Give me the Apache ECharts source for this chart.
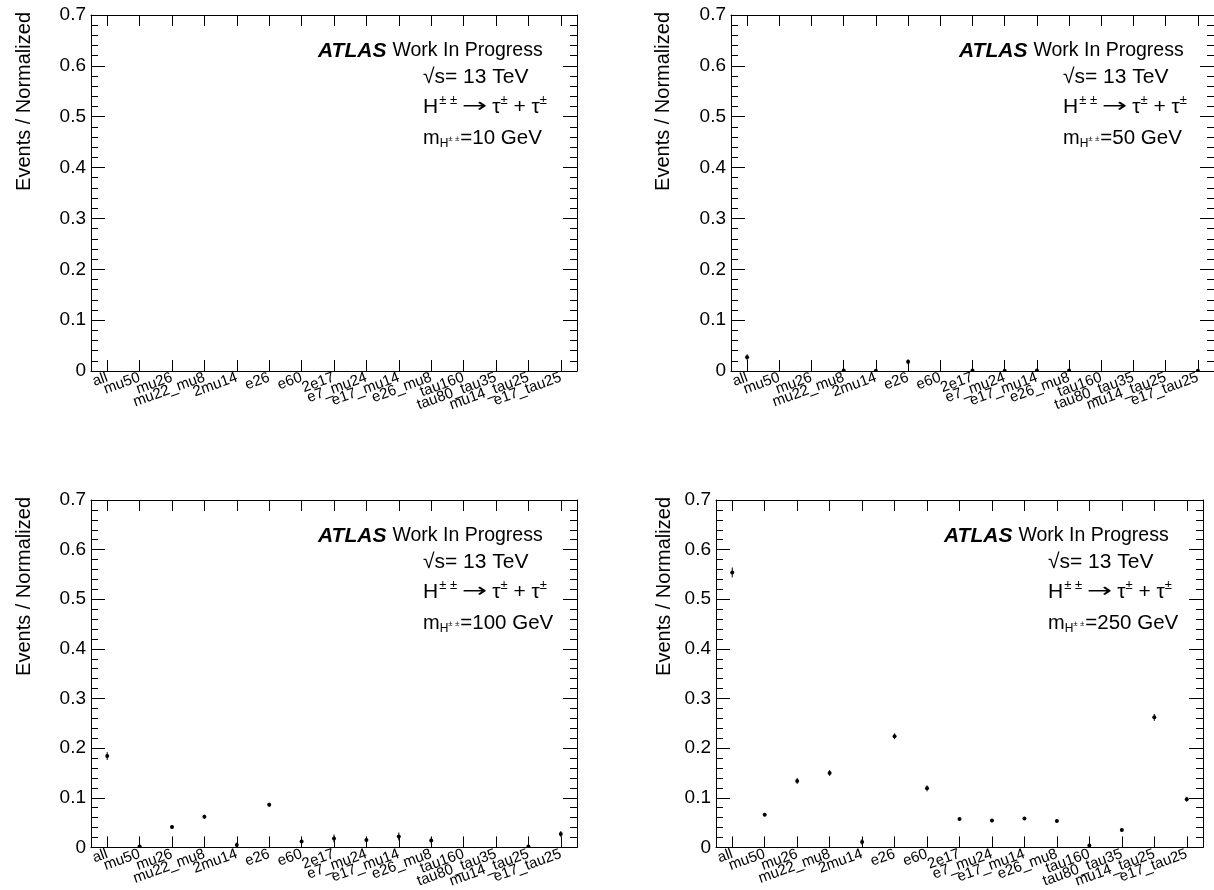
<!DOCTYPE html>
<html>
<head>
<meta charset="utf-8">
<script src="https://cdn.jsdelivr.net/npm/echarts@6/dist/echarts.min.js"></script>
<style>
html,body{margin:0;padding:0;background:#fff;}
#chart{width:1214px;height:890px;}
</style>
</head>
<body>
<div id="chart"></div>
<script>
// ---------- data ----------
const categories = ['all','mu50','mu26','mu22_mu8','2mu14','e26','e60','2e17','e7_mu24','e17_mu14','e26_mu8','tau160','tau80_tau35','mu14_tau25','e17_tau25'];
const yTicks = [0, 0.1, 0.2, 0.3, 0.4, 0.5, 0.6, 0.7];
const masses = ['10', '50', '100', '250'];

const frac10  = [null, null, null, null, null, null, null, null, null, null, null, null, null, null, null];
const err10   = [0, 0, 0, 0, 0, 0, 0, 0, 0, 0, 0, 0, 0, 0, 0];

const frac50  = [0.027, null, null, 0.001, 0.0005, 0.018, null, 0.001, 0.0005, 0.001, 0.001, null, null, null, 0.0005];
const err50   = [0.006, 0, 0, 0.001, 0.001, 0.005, 0, 0.001, 0.001, 0.001, 0.001, 0, 0, 0, 0.001];

const frac100 = [0.184, 0.002, 0.041, 0.062, 0.005, 0.086, 0.012, 0.018, 0.015, 0.022, 0.014, null, null, 0.002, 0.027];
const err100  = [0.008, 0.002, 0.004, 0.004, 0.005, 0.004, 0.006, 0.008, 0.006, 0.008, 0.006, 0, 0, 0.002, 0.006];

const frac250 = [0.554, 0.066, 0.134, 0.150, 0.011, 0.224, 0.119, 0.057, 0.054, 0.058, 0.053, 0.004, 0.035, 0.262, 0.097];
const err250  = [0.010, 0.003, 0.006, 0.006, 0.006, 0.006, 0.006, 0.003, 0.003, 0.003, 0.003, 0.003, 0.003, 0.007, 0.005];

// ---------- layout ----------
const FONT = '"Liberation Sans", Arial, Helvetica, sans-serif';
const SYMFONT = '"DejaVu Sans", "Liberation Sans", sans-serif';
const panels = [
  {vals: frac10,  errs: err10,  mass: masses[0], grid: {left: 91,  top: 15,  width: 486, height: 356}, tx1: 318, tx2: 423, ty: 51,  titleX: 24},
  {vals: frac50,  errs: err50,  mass: masses[1], grid: {left: 731, top: 15,  width: 486, height: 356}, tx1: 959, tx2: 1063, ty: 51, titleX: 663},
  {vals: frac100, errs: err100, mass: masses[2], grid: {left: 91,  top: 500, width: 486, height: 356}, tx1: 318, tx2: 423, ty: 536, titleX: 24},
  {vals: frac250, errs: err250, mass: masses[3], grid: {left: 716, top: 500, width: 487, height: 356}, tx1: 944, tx2: 1048, ty: 536, titleX: 664}
];

const axisLine = {show: true, onZero: false, lineStyle: {color: '#000', width: 1}};

const grids = [], xAxes = [], yAxes = [], series = [];
panels.forEach((p, i) => {
  grids.push(Object.assign({show: false}, p.grid));
  xAxes.push({
    type: 'category', gridIndex: i, data: categories, position: 'bottom', boundaryGap: true,
    axisLine: axisLine,
    axisTick: {show: true, inside: true, alignWithLabel: true, interval: 0, length: 11, lineStyle: {color: '#000', width: 1}},
    axisLabel: {show: true, interval: 0, rotate: 20, fontSize: 15, color: '#000', fontFamily: FONT, margin: 6},
    splitLine: {show: false}
  });
  xAxes.push({
    type: 'category', gridIndex: i, data: categories, position: 'top', boundaryGap: true,
    axisLine: axisLine,
    axisTick: {show: true, inside: true, alignWithLabel: true, interval: 0, length: 11, lineStyle: {color: '#000', width: 1}},
    axisLabel: {show: false},
    splitLine: {show: false}
  });
  const yBase = {
    type: 'value', gridIndex: i, min: yTicks[0], max: yTicks[yTicks.length - 1], interval: 0.1,
    axisLine: axisLine,
    axisTick: {show: true, inside: true, length: 14, lineStyle: {color: '#000', width: 1}},
    minorTick: {show: true, splitNumber: 5, length: 7, lineStyle: {color: '#000', width: 1}},
    splitLine: {show: false}, minorSplitLine: {show: false}
  };
  yAxes.push(Object.assign({}, yBase, {
    position: 'left',
    axisLabel: {show: true, fontSize: 19, color: '#000', fontFamily: FONT, margin: 5,
      formatter: v => (Math.abs(v) < 1e-9 ? '0' : v.toFixed(1))}
  }));
  yAxes.push(Object.assign({}, yBase, {position: 'right', axisLabel: {show: false}}));

  const data = [];
  p.vals.forEach((v, k) => { if (v !== null) data.push([k, v, p.errs[k]]); });
  series.push({
    type: 'custom', xAxisIndex: 2 * i, yAxisIndex: 2 * i, clip: true,
    data: data,
    encode: {x: 0, y: 1},
    renderItem: function (params, api) {
      const x = api.value(0), y = api.value(1), e = api.value(2);
      const c = api.coord([x, y]);
      const lo = api.coord([x, y - e]);
      const hi = api.coord([x, y + e]);
      return {
        type: 'group',
        children: [
          {type: 'line', shape: {x1: c[0], y1: lo[1], x2: c[0], y2: hi[1]}, style: {stroke: '#000', lineWidth: 1}},
          {type: 'circle', shape: {cx: c[0], cy: c[1], r: 2}, style: {fill: '#000'}}
        ]
      };
    }
  });
});

// ---------- annotation text (pieces laid out by measured width) ----------
const mctx = document.createElement('canvas').getContext('2d');
function measure(t, size, fam, weight, style) {
  mctx.font = (style || 'normal') + ' ' + (weight || 'normal') + ' ' + size + 'px ' + (fam || FONT);
  return mctx.measureText(t).width;
}
function lineElems(x, y, pieces) {
  const out = [];
  let cx = x;
  pieces.forEach(pc => {
    const sx = pc.sx || 1;
    out.push({
      type: 'text', x: cx, y: y + (pc.dy || 0), silent: true, scaleX: sx,
      style: {text: pc.t, fontSize: pc.s, fontWeight: pc.w || 'normal', fontStyle: pc.st || 'normal',
        fontFamily: pc.f || FONT, fill: '#000', align: 'left', verticalAlign: 'middle'}
    });
    cx += measure(pc.t, pc.s, pc.f, pc.w, pc.st) * sx + (pc.gap || 0);
  });
  return out;
}

const graphics = [];
panels.forEach(p => {
  const y1 = p.ty, y2 = p.ty + 26, y3 = p.ty + 56, y4 = p.ty + 87;
  graphics.push(...lineElems(p.tx1, y1, [
    {t: 'ATLAS', s: 21, w: 'bold', st: 'italic', gap: 6},
    {t: 'Work In Progress', s: 19.5}
  ]));
  graphics.push(...lineElems(p.tx2, y2, [
    {t: '\u221As= 13 TeV', s: 21}
  ]));
  graphics.push(...lineElems(p.tx2, y3, [
    {t: 'H', s: 21, gap: 1},
    {t: '\u00B1 \u00B1', s: 13, dy: -7, gap: 5},
    {t: '\u2192', s: 20, f: SYMFONT, sx: 1.5, gap: 5},
    {t: '\u03C4', s: 21},
    {t: '\u00B1', s: 13, dy: -7},
    {t: ' + ', s: 21},
    {t: '\u03C4', s: 21},
    {t: '\u00B1', s: 13, dy: -7}
  ]));
  graphics.push(...lineElems(p.tx2, y4, [
    {t: 'm', s: 20},
    {t: 'H', s: 12, dy: 6},
    {t: '\u00B1 \u00B1', s: 8, dy: 1, gap: 1},
    {t: '=' + p.mass + ' GeV', s: 20.5}
  ]));
  graphics.push({
    type: 'text', x: p.titleX, y: p.grid.top - 3, rotation: Math.PI / 2, silent: true,
    style: {text: 'Events / Normalized', fontSize: 20, fontFamily: FONT, fill: '#000', align: 'right', verticalAlign: 'middle'}
  });
});

const chart = echarts.init(document.getElementById('chart'), null, {renderer: 'canvas'});
chart.setOption({
  backgroundColor: '#fff',
  animation: false,
  grid: grids,
  xAxis: xAxes,
  yAxis: yAxes,
  series: series,
  graphic: graphics
});
</script>
</body>
</html>
